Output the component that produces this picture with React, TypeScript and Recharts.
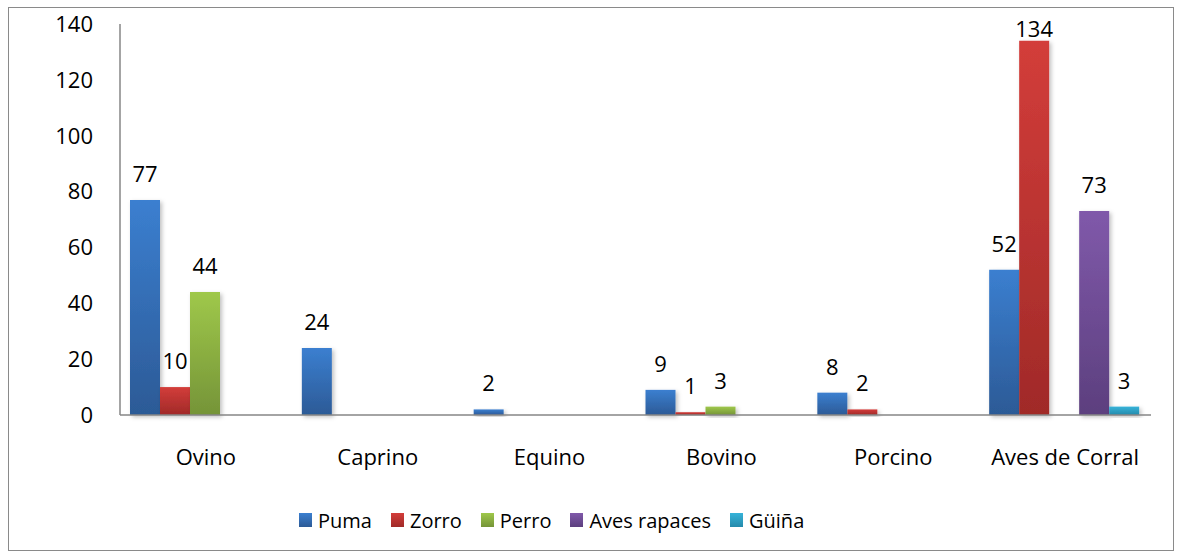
import { BarChart, Bar, XAxis, YAxis, LabelList, Legend } from 'recharts'

const categories = ['Ovino', 'Caprino', 'Equino', 'Bovino', 'Porcino', 'Aves de Corral']
const puma = [77, 24, 2, 9, 8, 52]
const zorro = [10, null, null, 1, 2, 134]
const perro = [44, null, null, 3, null, null]
const avesRapaces = [null, null, null, null, null, 73]
const guina = [null, null, null, null, null, 3]
const yTicks = [0, 20, 40, 60, 80, 100, 120, 140]

const series = [
  { key: 'puma', name: 'Puma', values: puma, top: '#3b7fd0', bottom: '#2c5a96' },
  { key: 'zorro', name: 'Zorro', values: zorro, top: '#d33d3a', bottom: '#a02a28' },
  { key: 'perro', name: 'Perro', values: perro, top: '#9fc84a', bottom: '#759438' },
  { key: 'aves', name: 'Aves rapaces', values: avesRapaces, top: '#8059aa', bottom: '#5c3f7e' },
  { key: 'guina', name: 'Güiña', values: guina, top: '#36b3d9', bottom: '#258aab' },
]

const data = categories.map((c, i) => {
  const row: Record<string, string | number | null> = { name: c }
  series.forEach((s) => {
    row[s.key] = s.values[i]
  })
  return row
})

const FONT = '"Open Sans", "Noto Sans", sans-serif'

function TopLabel(props: any) {
  const { x, y, width, value } = props
  if (value == null) return null
  const ty = Math.max(Number(y) - 18, 37)
  return (
    <text
      x={Number(x) + Number(width) / 2}
      y={ty}
      textAnchor="middle"
      fill="#000"
      fontSize={22}
      fontFamily={FONT}
    >
      {value}
    </text>
  )
}

function LegendBox() {
  return (
    <div
      style={{
        display: 'flex',
        justifyContent: 'flex-start',
        alignItems: 'center',
        height: 30,
        fontFamily: FONT,
        fontSize: 20,
        color: '#000',
        paddingLeft: 299,
      }}
    >
      {series.map((s) => (
        <div key={s.key} style={{ display: 'flex', alignItems: 'center', marginRight: 19 }}>
          <span
            style={{
              display: 'inline-block',
              width: 13,
              height: 14,
              marginRight: 6,
              background: `linear-gradient(${s.top}, ${s.bottom})`,
            }}
          />
          <span>{s.name}</span>
        </div>
      ))}
    </div>
  )
}

export default function App() {
  return (
    <div style={{ position: 'absolute', left: 0, top: 0, width: 1178, height: 556, background: '#fff' }}>
      <div
        style={{
          position: 'absolute',
          left: 8,
          top: 7,
          width: 1164,
          height: 542,
          border: '1.5px solid #8a8a8a',
        }}
      />
      <BarChart
        width={1178}
        height={556}
        data={data}
        margin={{ top: 24, right: 27, left: 0, bottom: 81 }}
        barCategoryGap={10}
        barGap={0}
      >
        <defs>
          {series.map((s) => (
            <linearGradient key={s.key} id={`grad-${s.key}`} x1="0" y1="0" x2="0" y2="1">
              <stop offset="0%" stopColor={s.top} />
              <stop offset="100%" stopColor={s.bottom} />
            </linearGradient>
          ))}
          <filter id="shadow" x="-20%" y="-20%" width="150%" height="150%">
            <feDropShadow dx="2" dy="2" stdDeviation="2" floodColor="#000" floodOpacity="0.25" />
          </filter>
        </defs>
        <XAxis
          dataKey="name"
          axisLine={{ stroke: '#868686', strokeWidth: 1.5 }}
          tickLine={false}
          tickSize={0}
          tickMargin={34}
          tick={{ fill: '#000', fontSize: 22, fontFamily: FONT }}
          interval={0}
        />
        <YAxis
          width={120}
          domain={[0, 140]}
          ticks={yTicks}
          axisLine={{ stroke: '#868686', strokeWidth: 1.5 }}
          tickLine={false}
          tickSize={0}
          tickMargin={27}
          tick={{ fill: '#000', fontSize: 22, fontFamily: FONT }}
        />
        <Legend
          content={<LegendBox />}
          wrapperStyle={{ top: 505, left: 0, width: 1178, height: 30 }}
          verticalAlign="bottom"
        />
        {series.map((s) => (
          <Bar
            key={s.key}
            dataKey={s.key}
            name={s.name}
            fill={`url(#grad-${s.key})`}
            filter="url(#shadow)"
            isAnimationActive={false}
          >
            <LabelList dataKey={s.key} content={<TopLabel />} />
          </Bar>
        ))}
      </BarChart>
    </div>
  )
}
